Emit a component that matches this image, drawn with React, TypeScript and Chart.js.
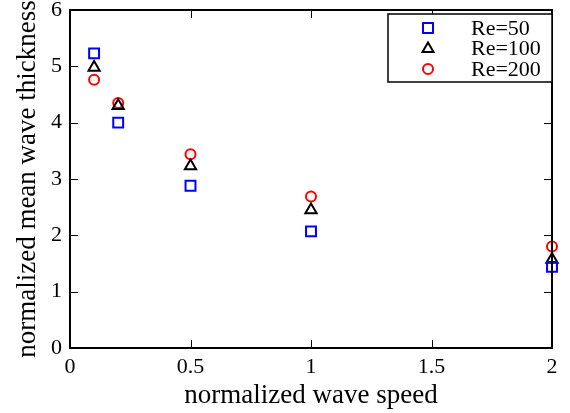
import { useEffect, useRef } from "react";
import { Chart, registerables } from "chart.js";

Chart.register(...registerables);

const waveSpeed = [0.1, 0.2, 0.5, 1, 2];
const re50 = [5.23, 4.0, 2.88, 2.07, 1.44];
const re100 = [4.98, 4.3, 3.23, 2.45, 1.57];
const re200 = [4.76, 4.35, 3.44, 2.69, 1.8];
const seriesLabels = ["Re=50", "Re=100", "Re=200"];
const seriesColors = ["#0000ff", "#000000", "#ff0000"];
const seriesMarkers = ["rect", "triangle", "circle"];
const xTicks = [0, 0.5, 1, 1.5, 2];
const xTickLabels = ["0", "0.5", "1", "1.5", "2"];
const yTicks = [0, 1, 2, 3, 4, 5, 6];
const yTickLabels = ["0", "1", "2", "3", "4", "5", "6"];

const FONT = "'Liberation Serif', 'Times New Roman', serif";

function drawMarker(ctx: CanvasRenderingContext2D, style: string, x: number, y: number) {
  ctx.beginPath();
  if (style === "rect") {
    ctx.rect(x - 5, y - 5, 10, 10);
  } else if (style === "triangle") {
    ctx.moveTo(x, y - 6);
    ctx.lineTo(x + 5.5, y + 3.5);
    ctx.lineTo(x - 5.5, y + 3.5);
    ctx.closePath();
  } else {
    ctx.arc(x, y, 5, 0, Math.PI * 2);
  }
  ctx.stroke();
}

const framePlugin = {
  id: "frame",
  afterDatasetsDraw(chart: any) {
    const { ctx, chartArea, scales } = chart;
    const { left, right, top, bottom } = chartArea;
    const x = scales.x;
    const y = scales.y;
    ctx.save();
    ctx.strokeStyle = "#000";
    ctx.lineWidth = 1;
    const L = 8;
    ctx.beginPath();
    xTicks.forEach((v) => {
      const px = Math.round(x.getPixelForValue(v)) + 0.5;
      ctx.moveTo(px, bottom);
      ctx.lineTo(px, bottom - L);
      ctx.moveTo(px, top);
      ctx.lineTo(px, top + L);
    });
    yTicks.forEach((v) => {
      const py = Math.round(y.getPixelForValue(v)) + 0.5;
      ctx.moveTo(left, py);
      ctx.lineTo(left + L, py);
      ctx.moveTo(right, py);
      ctx.lineTo(right - L, py);
    });
    ctx.stroke();
    ctx.lineWidth = 2;
    ctx.strokeRect(left, top, right - left, bottom - top);

    // legend
    const bw = 164;
    const bh = 68;
    const bx = right - bw;
    const by = top + 4;
    ctx.fillStyle = "#fff";
    ctx.fillRect(bx, by, bw, bh);
    ctx.lineWidth = 1.5;
    ctx.strokeStyle = "#000";
    ctx.strokeRect(bx, by, bw, bh);
    ctx.font = `22px ${FONT}`;
    ctx.textBaseline = "middle";
    ctx.textAlign = "left";
    seriesLabels.forEach((lab, i) => {
      const cy = by + 14 + i * 20.5;
      ctx.strokeStyle = seriesColors[i];
      ctx.lineWidth = 2;
      drawMarker(ctx, seriesMarkers[i], bx + 40, cy);
      ctx.fillStyle = "#000";
      ctx.fillText(lab, bx + 83, cy + 1);
    });
    ctx.restore();
  },
};

export default function App() {
  const ref = useRef<HTMLCanvasElement>(null);
  useEffect(() => {
    document.body.style.margin = "0";
    const series = [re50, re100, re200];
    const chart = new Chart(ref.current as HTMLCanvasElement, {
      type: "scatter",
      data: {
        datasets: series.map((vals, i) => ({
          label: seriesLabels[i],
          data: waveSpeed.map((xv, j) => ({ x: xv, y: vals[j] })),
          pointStyle: seriesMarkers[i] as any,
          pointRadius: seriesMarkers[i] === "rect" ? 7 : seriesMarkers[i] === "triangle" ? 6.5 : 5,
          pointBorderWidth: 2,
          borderColor: seriesColors[i],
          backgroundColor: "rgba(0,0,0,0)",
          showLine: false,
          clip: false as any,
        })),
      },
      options: {
        animation: false,
        responsive: false,
        layout: { padding: { top: 10, right: 18, left: 0, bottom: 0 } },
        plugins: { legend: { display: false }, tooltip: { enabled: false } },
        scales: {
          x: {
            type: "linear",
            min: 0,
            max: 2,
            afterFit: (s: any) => {
              s.height = 65;
              s.paddingLeft = 0;
              s.paddingRight = 0;
              s.paddingTop = 0;
              s.paddingBottom = 0;
            },
            afterBuildTicks: (s: any) => {
              s.ticks = xTicks.map((v) => ({ value: v }));
            },
            ticks: {
              font: { family: FONT, size: 22 },
              color: "#000",
              padding: 6,
              callback: (_v: any, i: number) => xTickLabels[i],
            },
            grid: { display: false, drawTicks: false },
            border: { display: false },
            title: {
              display: true,
              text: "normalized wave speed",
              font: { family: FONT, size: 27 },
              color: "#000",
              padding: { top: 0, bottom: 1 },
            },
          },
          y: {
            type: "linear",
            min: 0,
            max: 6,
            afterFit: (s: any) => {
              s.width = 70;
              s.paddingLeft = 0;
              s.paddingRight = 0;
              s.paddingTop = 0;
              s.paddingBottom = 0;
            },
            afterBuildTicks: (s: any) => {
              s.ticks = yTicks.map((v) => ({ value: v }));
            },
            ticks: {
              font: { family: FONT, size: 22 },
              color: "#000",
              padding: 8,
              callback: (_v: any, i: number) => yTickLabels[i],
            },
            grid: { display: false, drawTicks: false },
            border: { display: false },
            title: {
              display: true,
              text: "normalized mean wave thickness",
              font: { family: FONT, size: 27 },
              color: "#000",
              padding: { top: 12, bottom: 0 },
            },
          },
        },
      },
      plugins: [framePlugin],
    });
    return () => chart.destroy();
  }, []);
  return (
    <div style={{ width: 570, height: 413 }}>
      <canvas ref={ref} width={570} height={413} />
    </div>
  );
}
